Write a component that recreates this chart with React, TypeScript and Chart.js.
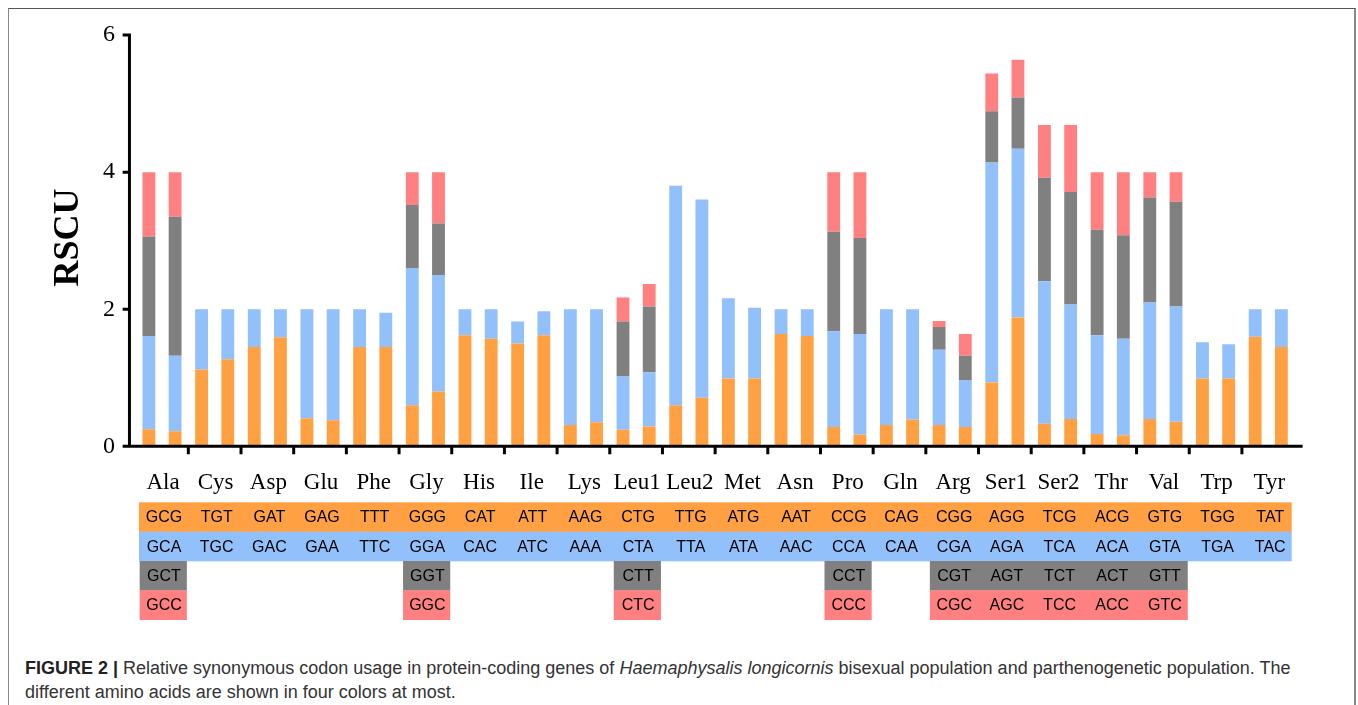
import React, { useEffect, useRef } from "react";
import { Chart, registerables } from "chart.js";

Chart.register(...registerables);

// ---------- data ----------
const aminoAcids = [
  "Ala", "Cys", "Asp", "Glu", "Phe", "Gly", "His", "Ile", "Lys", "Leu1", "Leu2",
  "Met", "Asn", "Pro", "Gln", "Arg", "Ser1", "Ser2", "Thr", "Val", "Trp", "Tyr",
];

const codon1 = ["GCG", "TGT", "GAT", "GAG", "TTT", "GGG", "CAT", "ATT", "AAG", "CTG", "TTG", "ATG", "AAT", "CCG", "CAG", "CGG", "AGG", "TCG", "ACG", "GTG", "TGG", "TAT"];
const codon2 = ["GCA", "TGC", "GAC", "GAA", "TTC", "GGA", "CAC", "ATC", "AAA", "CTA", "TTA", "ATA", "AAC", "CCA", "CAA", "CGA", "AGA", "TCA", "ACA", "GTA", "TGA", "TAC"];
const codon3 = ["GCT", "", "", "", "", "GGT", "", "", "", "CTT", "", "", "", "CCT", "", "CGT", "AGT", "TCT", "ACT", "GTT", "", ""];
const codon4 = ["GCC", "", "", "", "", "GGC", "", "", "", "CTC", "", "", "", "CCC", "", "CGC", "AGC", "TCC", "ACC", "GTC", "", ""];

// bisexual population (left bar of each pair), RSCU per codon row
const bisexual1 = [0.25, 1.12, 1.45, 0.41, 1.45, 0.60, 1.62, 1.50, 0.31, 0.24, 0.60, 0.99, 1.64, 0.28, 0.31, 0.31, 0.93, 0.33, 0.18, 0.40, 0.99, 1.60];
const bisexual2 = [1.36, 0.88, 0.55, 1.59, 0.55, 2.00, 0.38, 0.32, 1.69, 0.78, 3.20, 1.17, 0.36, 1.40, 1.69, 1.10, 3.21, 2.08, 1.44, 1.70, 0.53, 0.40];
const bisexual3 = [1.45, null, null, null, null, 0.92, null, null, null, 0.80, null, null, null, 1.45, null, 0.33, 0.75, 1.51, 1.54, 1.53, null, null];
const bisexual4 = [0.94, null, null, null, null, 0.48, null, null, null, 0.35, null, null, null, 0.87, null, 0.09, 0.55, 0.77, 0.84, 0.37, null, null];

// parthenogenetic population (right bar of each pair)
const partheno1 = [0.22, 1.27, 1.59, 0.38, 1.45, 0.80, 1.57, 1.62, 0.35, 0.29, 0.71, 0.99, 1.61, 0.17, 0.39, 0.28, 1.88, 0.40, 0.16, 0.36, 0.99, 1.45];
const partheno2 = [1.10, 0.73, 0.41, 1.62, 0.50, 1.70, 0.43, 0.35, 1.65, 0.79, 2.89, 1.03, 0.39, 1.47, 1.61, 0.68, 2.46, 1.67, 1.41, 1.68, 0.50, 0.55];
const partheno3 = [2.03, null, null, null, null, 0.75, null, null, null, 0.96, null, null, null, 1.40, null, 0.36, 0.75, 1.64, 1.51, 1.53, null, null];
const partheno4 = [0.65, null, null, null, null, 0.75, null, null, null, 0.33, null, null, null, 0.96, null, 0.32, 0.55, 0.98, 0.92, 0.43, null, null];

const yTicks = [0, 2, 4, 6];

// ---------- styles ----------
const ORANGE = "rgb(255,161,67)";
const BLUE = "rgb(146,192,250)";
const GRAY = "rgb(128,128,128)";
const RED = "rgb(255,128,128)";
const rowColors = [ORANGE, BLUE, GRAY, RED];
const codonRows = [codon1, codon2, codon3, codon4];

const overlayPlugin = {
  id: "overlay",
  afterDraw(chart: any) {
    const { ctx, chartArea: ca, scales } = chart;
    const x = scales.x;
    const y = scales.y;
    const n = aminoAcids.length;
    const step = x.getPixelForValue(1) - x.getPixelForValue(0);
    const axisX = ca.left - 6.2;
    const axisY = y.getPixelForValue(0);

    ctx.save();
    // axes
    ctx.strokeStyle = "#000";
    ctx.lineWidth = 3;
    ctx.lineCap = "butt";
    ctx.beginPath();
    ctx.moveTo(axisX, y.getPixelForValue(6) - 1.5);
    ctx.lineTo(axisX, axisY + 1.5);
    for (const t of yTicks) {
      const py = y.getPixelForValue(t);
      ctx.moveTo(axisX - 6.8, py);
      ctx.lineTo(axisX, py);
    }
    ctx.moveTo(ca.left - 13, axisY);
    ctx.lineTo(ca.right + 8, axisY);
    for (let i = 1; i < n; i++) {
      const bx = x.getPixelForValue(i) - step / 2;
      ctx.moveTo(bx, axisY);
      ctx.lineTo(bx, axisY + 8);
    }
    ctx.stroke();

    // y title
    ctx.save();
    ctx.translate(ca.left - 66.5, 237.5);
    ctx.rotate(-Math.PI / 2);
    ctx.font = 'bold 36px "Liberation Serif", "Times New Roman", serif';
    ctx.fillStyle = "#000";
    ctx.textAlign = "center";
    ctx.textBaseline = "middle";
    ctx.fillText("RSCU", 0, 0);
    ctx.restore();

    // category labels
    ctx.font = '23px "Liberation Serif", "Times New Roman", serif';
    ctx.fillStyle = "#000";
    ctx.textAlign = "center";
    ctx.textBaseline = "alphabetic";
    aminoAcids.forEach((a, i) => {
      ctx.fillText(a, x.getPixelForValue(i) + 1, axisY + 43);
    });

    // codon table
    const tableTop = axisY + 56;
    const rowH = 29.35;
    const tableLeft = ca.left + 3.3;
    const tableRight = ca.right - 2.9;
    codonRows.forEach((row, r) => {
      const top = tableTop + r * rowH;
      ctx.fillStyle = rowColors[r];
      let i = 0;
      while (i < n) {
        if (!row[i]) { i++; continue; }
        let j = i;
        while (j + 1 < n && row[j + 1]) j++;
        let left = x.getPixelForValue(i) - step / 2;
        let right = x.getPixelForValue(j) + step / 2;
        if (r >= 2) { left += 4; right -= 1.5; }
        left = Math.max(left, tableLeft);
        right = Math.min(right, tableRight);
        ctx.fillRect(left, top, right - left, rowH + 0.3);
        i = j + 1;
      }
      ctx.fillStyle = "#000";
      ctx.font = '16px "Liberation Sans", Arial, sans-serif';
      ctx.textAlign = "center";
      ctx.textBaseline = "middle";
      row.forEach((c, k) => {
        if (c) ctx.fillText(c, x.getPixelForValue(k) + 2, top + rowH / 2 + 1);
      });
    });
    ctx.restore();
  },
};

export default function App() {
  const canvasRef = useRef<HTMLCanvasElement | null>(null);

  useEffect(() => {
    if (!canvasRef.current) return;
    const mk = (label: string, data: (number | null)[], color: string, stack: string) => ({
      label,
      data,
      backgroundColor: color,
      borderWidth: 0,
      stack,
      categoryPercentage: 0.995,
      barPercentage: 0.49,
    });
    const chart = new Chart(canvasRef.current, {
      type: "bar",
      data: {
        labels: aminoAcids,
        datasets: [
          mk("Bisexual codon 1", bisexual1, ORANGE, "bisexual"),
          mk("Bisexual codon 2", bisexual2, BLUE, "bisexual"),
          mk("Bisexual codon 3", bisexual3, GRAY, "bisexual"),
          mk("Bisexual codon 4", bisexual4, RED, "bisexual"),
          mk("Parthenogenetic codon 1", partheno1, ORANGE, "partheno"),
          mk("Parthenogenetic codon 2", partheno2, BLUE, "partheno"),
          mk("Parthenogenetic codon 3", partheno3, GRAY, "partheno"),
          mk("Parthenogenetic codon 4", partheno4, RED, "partheno"),
        ],
      },
      options: {
        responsive: false,
        animation: false,
        layout: { padding: { left: 0, right: 63.4, top: 33.6, bottom: 193.7 } },
        plugins: { legend: { display: false }, tooltip: { enabled: false } },
        scales: {
          x: {
            display: false,
            stacked: true,
          },
          y: {
            stacked: true,
            min: 0,
            max: 6,
            afterFit: (s: any) => { s.width = 135.66; },
            afterBuildTicks: (s: any) => { s.ticks = yTicks.map((v) => ({ value: v })); },
            grid: { display: false, drawTicks: false, tickLength: 0 },
            border: { display: false },
            ticks: {
              padding: 20.7,
              color: "#000",
              font: { family: '"Liberation Serif", "Times New Roman", serif', size: 24 },
            },
          },
        },
      },
      plugins: [overlayPlugin],
    });
    return () => chart.destroy();
  }, []);

  return (
    <div style={{ position: "absolute", left: 0, top: 0, width: 1358, height: 705, overflow: "hidden", background: "#fff" }}>
      <div
        style={{
          position: "absolute",
          left: 8,
          top: 8,
          width: 1348,
          height: 697,
          boxSizing: "border-box",
          borderLeft: "1px solid #888",
          borderTop: "1.5px solid #555",
          borderRight: "2px solid #888",
        }}
      />
      <canvas ref={canvasRef} width={1358} height={640} style={{ position: "absolute", left: 0, top: 0 }} />
      <div
        style={{
          position: "absolute",
          left: 25,
          top: 655.5,
          whiteSpace: "nowrap",
          font: '18px "Liberation Sans", Arial, sans-serif',
          lineHeight: "24.5px",
          color: "#333",
        }}
      >
        <b style={{ color: "#222" }}>FIGURE 2 |</b> Relative synonymous codon usage in protein-coding genes of{" "}
        <i>Haemaphysalis longicornis</i> bisexual population and parthenogenetic population. The
        <br />
        different amino acids are shown in four colors at most.
      </div>
    </div>
  );
}
